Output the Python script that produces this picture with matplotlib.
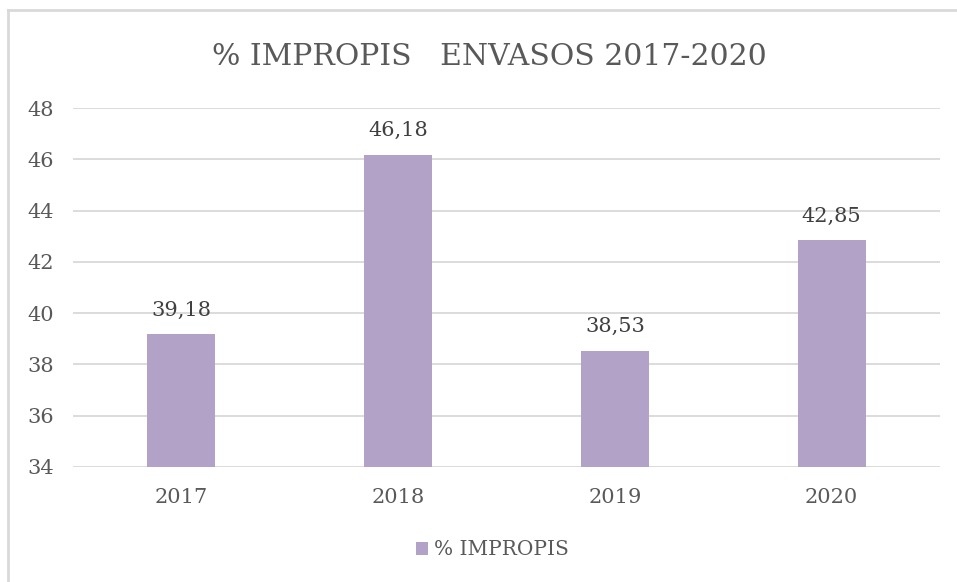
import matplotlib.pyplot as plt
from matplotlib.lines import Line2D

years = ['2017', '2018', '2019', '2020']
impropis = [39.18, 46.18, 38.53, 42.85]
value_labels = ['39,18', '46,18', '38,53', '42,85']

txt = '#595959'
plt.rcParams['font.family'] = ['DejaVu Serif']

fig = plt.figure(figsize=(9.57, 5.82), dpi=100)
ax = fig.add_axes([0.0763, 0.1976, 0.9059, 0.6168])

# chart border (top and left visible)
fig.add_artist(Line2D([0.008, 1.0], [0.983, 0.983], color='#D9D9D9', lw=2))
fig.add_artist(Line2D([0.008, 0.008], [0.0, 0.983], color='#D9D9D9', lw=2))

bars = ax.bar(years, impropis, width=0.314, color='#B3A2C7', label='% IMPROPIS', zorder=3)
ax.set_ylim(34, 48)
ax.set_xlim(-0.5, 3.5)
ax.set_yticks(range(34, 49, 2))
ax.grid(axis='y', color='#D9D9D9', lw=1.3, zorder=0)

for b, lab in zip(bars, value_labels):
    ax.annotate(lab, (b.get_x() + b.get_width() / 2, b.get_height()),
                xytext=(0, 10.5), textcoords='offset points',
                ha='center', va='bottom', fontsize=15, color='#404040')

for s in ax.spines.values():
    s.set_visible(False)
ax.tick_params(length=0, colors=txt, labelsize=15)
ax.tick_params(axis='x', pad=15)
ax.tick_params(axis='y', pad=14)

fig.text(0.511, 0.902, '% IMPROPIS   ENVASOS 2017-2020', ha='center', va='center',
         fontsize=21.5, color=txt)

fig.legend(loc='center', bbox_to_anchor=(0.515, 0.055), frameon=False,
           fontsize=14.5, labelcolor=txt, handlelength=0.6, handleheight=0.6,
           handletextpad=0.3)

plt.savefig('out.png', dpi=100)
